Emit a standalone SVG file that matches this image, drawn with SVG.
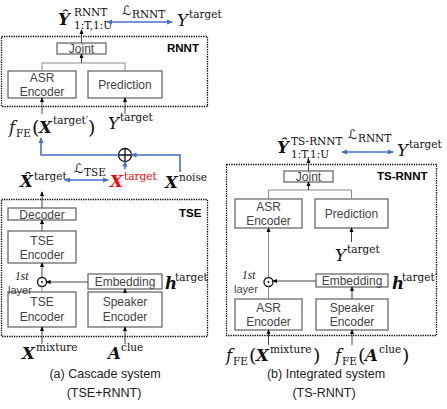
<svg xmlns="http://www.w3.org/2000/svg" width="447" height="409" viewBox="0 0 447 409">
<defs>
<marker id="ah" viewBox="0 0 6 6" refX="5" refY="3" markerWidth="5" markerHeight="5" orient="auto-start-reverse" markerUnits="userSpaceOnUse">
<path d="M0,0.5 L6,3 L0,5.5 z" fill="#000"/>
</marker>
<marker id="bh" viewBox="0 0 6 6" refX="5" refY="3" markerWidth="6" markerHeight="6" orient="auto-start-reverse" markerUnits="userSpaceOnUse">
<path d="M0,0.5 L6,3 L0,5.5 z" fill="#4472C4"/>
</marker>
<style>
.box{fill:#fff;stroke:#6b6b6b;stroke-width:1.3}
.grp{fill:none;stroke:#000;stroke-width:1.3;stroke-dasharray:1.3 1.1}
.bt{font-family:"Liberation Sans",Arial,sans-serif;font-size:12px;fill:#444;text-anchor:middle}
.gl{font-family:"Liberation Sans",Arial,sans-serif;font-size:11.5px;font-weight:bold;fill:#000}
.cap{font-family:"Liberation Sans",Arial,sans-serif;font-size:12.5px;fill:#222;text-anchor:middle}
.c{fill:none;stroke:#444;stroke-width:1}
.g{fill:none;stroke:#8a8a8a;stroke-width:1}
.b{fill:none;stroke:#4472C4;stroke-width:1.6}
.mv{font-family:"DejaVu Serif","Liberation Serif",serif;font-size:16.5px;font-weight:bold;font-style:italic;fill:#111}
.mi{font-family:"DejaVu Serif","Liberation Serif",serif;font-size:16.5px;font-style:italic;fill:#111}
.sp{font-family:"DejaVu Serif","Liberation Serif",serif;font-size:10.5px;fill:#111}
.pa{font-family:"DejaVu Serif","Liberation Serif",serif;font-size:19px;fill:#111}
.ls{font-family:"DejaVu Sans","Liberation Serif",serif;font-size:13px;font-style:italic;fill:#111}
.it{font-family:"Liberation Serif",serif;font-size:11.5px;font-style:italic;fill:#222}
.ly{font-family:"Liberation Sans",Arial,sans-serif;font-size:11px;fill:#444}
</style>
</defs>

<!-- ===== Panel (a) ===== -->
<g id="rnnt-group"><rect class="grp" x="1.5" y="36.5" width="206" height="70"/><text class="gl" x="167" y="52">RNNT</text></g>
<g id="a-joint"><rect class="box" x="57" y="43" width="49" height="11"/><text class="bt" x="81.5" y="53">Joint</text></g>
<g id="a-asr"><rect class="box" x="8" y="71" width="68" height="27"/><text class="bt" x="42" y="82">ASR</text><text class="bt" x="42" y="95.5">Encoder</text></g>
<g id="a-pred"><rect class="box" x="88" y="71" width="74" height="27"/><text class="bt" x="125" y="89">Prediction</text></g>

<g id="tse-group"><rect class="grp" x="1.5" y="199.5" width="206" height="137"/><text class="gl" x="179" y="217">TSE</text></g>
<g id="a-dec"><rect class="box" x="8" y="208" width="68" height="12"/><text class="bt" x="42" y="218.5">Decoder</text></g>
<g id="a-tseenc2"><rect class="box" x="8" y="231" width="68" height="32"/><text class="bt" x="42" y="244.5">TSE</text><text class="bt" x="42" y="258.5">Encoder</text></g>
<g id="a-tseenc1"><rect class="box" x="8" y="292" width="68" height="35"/><text class="bt" x="42" y="306">TSE</text><text class="bt" x="42" y="321">Encoder</text></g>
<g id="a-emb"><rect class="box" x="88" y="274" width="74" height="15"/><text class="bt" x="125" y="286">Embedding</text></g>
<g id="a-spk"><rect class="box" x="88" y="292" width="74" height="35"/><text class="bt" x="125" y="306">Speaker</text><text class="bt" x="125" y="321">Encoder</text></g>
<g id="a-odot"><circle cx="42" cy="282" r="4.5" fill="#fff" stroke="#111" stroke-width="1.3"/><circle cx="42" cy="282" r="1" fill="#111"/><text class="it" x="15" y="279.5">1st</text><text class="ly" x="8" y="294">layer</text></g>
<g id="a-oplus"><circle cx="125" cy="155" r="6.5" fill="#fff" stroke="#111" stroke-width="1.3"/><path d="M118.5,155 H131.5 M125,148.5 V161.5" stroke="#111" stroke-width="1.3"/></g>

<g id="a-labels">
<text class="mv" x="58" y="25">Ŷ</text><text class="sp" x="74" y="16">RNNT</text><text class="sp" x="74" y="28.5">1:T,1:U</text>
<text class="ls" x="122" y="15">ℒ</text><text class="sp" x="132" y="17.5" font-size="8.5">RNNT</text>
<text class="mi" x="177" y="26">Y</text><text class="sp" x="189" y="18">target</text>
<text class="mi" x="9" y="133">f</text><text class="sp" x="16" y="136.5" font-size="10">FE</text><text class="pa" x="32" y="134">(</text><text class="mv" x="39" y="133">X</text><text class="sp" x="53" y="124">target′</text><text class="pa" x="88" y="134">)</text>
<text class="mi" x="108" y="129">Y</text><text class="sp" x="120" y="121">target</text>
<text class="mv" x="20" y="187">X̂</text><text class="sp" x="34" y="179.5">target</text>
<text class="ls" x="74" y="173">ℒ</text><text class="sp" x="84" y="175.5" font-size="8.5">TSE</text>
<text class="mv" x="110" y="187" style="fill:#ff0000">X</text><text class="sp" x="124" y="179.5" style="fill:#ff0000">target</text>
<text class="mv" x="165" y="188">X</text><text class="sp" x="179" y="180.5">noise</text>
<text class="mv" x="22" y="359">X</text><text class="sp" x="36" y="351">mixture</text>
<text class="mv" x="108" y="359">A</text><text class="sp" x="121" y="351">clue</text>
<text class="mv" x="165" y="289">h</text><text class="sp" x="175" y="281">target</text>
</g>
<text class="cap" x="105" y="378">(a)  Cascade system</text>
<text class="cap" x="104" y="397">(TSE+RNNT)</text>

<!-- ===== Panel (b) ===== -->
<g id="tsrnnt-group"><rect class="grp" x="226.5" y="164.5" width="210" height="171"/><text class="gl" x="377" y="180">TS-RNNT</text></g>
<g id="b-joint"><rect class="box" x="284" y="171" width="49" height="11"/><text class="bt" x="308.5" y="181">Joint</text></g>
<g id="b-asr2"><rect class="box" x="235" y="199" width="67" height="29"/><text class="bt" x="268.5" y="211">ASR</text><text class="bt" x="268.5" y="224.5">Encoder</text></g>
<g id="b-pred"><rect class="box" x="315" y="199" width="73" height="29"/><text class="bt" x="351.5" y="217.5">Prediction</text></g>
<g id="b-odot"><circle cx="268.5" cy="282" r="4.5" fill="#fff" stroke="#111" stroke-width="1.3"/><circle cx="268.5" cy="282" r="1" fill="#111"/><text class="it" x="242" y="279">1st</text><text class="ly" x="234" y="293">layer</text></g>
<g id="b-emb"><rect class="box" x="316" y="274" width="72" height="13"/><text class="bt" x="352" y="285">Embedding</text></g>
<g id="b-asr1"><rect class="box" x="235" y="299" width="67" height="31"/><text class="bt" x="268.5" y="312">ASR</text><text class="bt" x="268.5" y="326">Encoder</text></g>
<g id="b-spk"><rect class="box" x="316" y="299" width="72" height="31"/><text class="bt" x="352" y="312">Speaker</text><text class="bt" x="352" y="326">Encoder</text></g>

<g id="b-labels">
<text class="mv" x="277" y="153">Ŷ</text><text class="sp" x="291" y="145">TS-RNNT</text><text class="sp" x="291" y="157.5">1:T,1:U</text>
<text class="ls" x="348" y="139">ℒ</text><text class="sp" x="358" y="141.5" font-size="8.5">RNNT</text>
<text class="mi" x="397" y="156">Y</text><text class="sp" x="409" y="148">target</text>
<text class="mi" x="335" y="261">Y</text><text class="sp" x="347" y="253">target</text>
<text class="mv" x="392" y="289">h</text><text class="sp" x="402" y="281">target′</text>
<text class="mi" x="226" y="361">f</text><text class="sp" x="233" y="364.5" font-size="10">FE</text><text class="pa" x="249" y="362">(</text><text class="mv" x="256" y="361">X</text><text class="sp" x="270" y="353">mixture</text><text class="pa" x="313" y="362">)</text>
<text class="mi" x="335" y="361">f</text><text class="sp" x="342" y="364.5" font-size="10">FE</text><text class="pa" x="358" y="362">(</text><text class="mv" x="365" y="361">A</text><text class="sp" x="379" y="353">clue</text><text class="pa" x="402" y="362">)</text>
</g>
<text class="cap" x="326" y="378">(b) Integrated system</text>
<text class="cap" x="324" y="397">(TS-RNNT)</text>

<!-- ===== Connectors ===== -->
<g id="connectors">
<path class="g" d="M42,71 V63 H125 V71"/>
<path class="c" d="M81.5,63 V54" marker-end="url(#ah)"/>
<path class="c" d="M81.5,43 V30" marker-end="url(#ah)"/>
<path class="c" d="M42,114 V98" marker-end="url(#ah)"/>
<path class="c" d="M125,114 V98" marker-end="url(#ah)"/>
<path class="b" d="M107,22 H172" marker-start="url(#bh)" marker-end="url(#bh)"/>
<path class="b" d="M180,172 V155 H131.5" marker-end="url(#bh)"/>
<path class="b" d="M118.5,155 H41 V138" marker-end="url(#bh)"/>
<path class="b" d="M125,169 V161.5" marker-end="url(#bh)"/>
<path class="b" d="M65,180 H108" marker-start="url(#bh)" marker-end="url(#bh)"/>
<path class="c" d="M42,208 V192" marker-end="url(#ah)"/>
<path class="c" d="M42,231 V220" marker-end="url(#ah)"/>
<path class="c" d="M42,277.5 V263" marker-end="url(#ah)"/>
<path class="g" d="M42,292 V286.5"/>
<path class="c" d="M88,282 H46.5" marker-end="url(#ah)"/>
<path class="c" d="M125,292 V289" marker-end="url(#ah)"/>
<path class="c" d="M42,344 V327" marker-end="url(#ah)"/>
<path class="c" d="M125,344 V327" marker-end="url(#ah)"/>

<path class="g" d="M268.5,199 V190 H351.5 V199"/>
<path class="c" d="M308.5,190 V182" marker-end="url(#ah)"/>
<path class="c" d="M308.5,171 V159" marker-end="url(#ah)"/>
<path class="b" d="M342,152 H393" marker-start="url(#bh)" marker-end="url(#bh)"/>
<path class="c" d="M351.5,242 V228" marker-end="url(#ah)"/>
<path class="g" d="M268.5,277.5 V228" marker-end="url(#ah)"/>
<path class="g" d="M268.5,299 V286.5"/>
<path class="c" d="M316,281 H273" marker-end="url(#ah)"/>
<path class="c" d="M352,299 V287" marker-end="url(#ah)"/>
<path class="c" d="M268.5,345 V330" marker-end="url(#ah)"/>
<path class="c" d="M352,345 V330" marker-end="url(#ah)"/>
</g>
</svg>
